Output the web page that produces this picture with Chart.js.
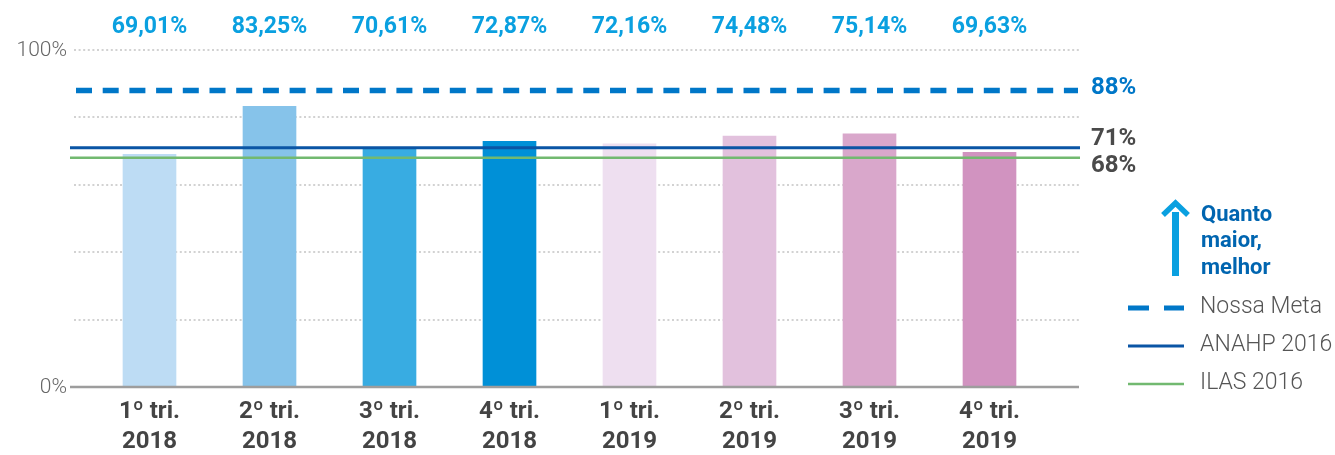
<!DOCTYPE html>
<html>
<head>
<meta charset="utf-8">
<script src="https://cdn.jsdelivr.net/npm/chart.js@4/dist/chart.umd.min.js"></script>
<style>
  html, body { margin: 0; padding: 0; background: #fff; }
  canvas { display: block; }
</style>
</head>
<body>
<canvas id="chart" width="1335" height="455"></canvas>
<script>
// dados
const trimestres = ["1º tri.", "2º tri.", "3º tri.", "4º tri.", "1º tri.", "2º tri.", "3º tri.", "4º tri."];
const anos = ["2018", "2018", "2018", "2018", "2019", "2019", "2019", "2019"];
const valores = [69.01, 83.25, 70.61, 72.87, 72.16, 74.48, 75.14, 69.63];
const coresBarras = ["#bddcf4", "#86c3ea", "#38ace2", "#0090d7", "#eedff0", "#e2c1dd", "#d9a7cb", "#d193c0"];
const yTicks = [0, 20, 40, 60, 80, 100];
const yTickLabels = ["0%", "", "", "", "", "100%"];
const refNomes = ["Nossa Meta", "ANAHP 2016", "ILAS 2016"];
const refValores = [88, 71, 68];
const refCores = ["#0077c8", "#0a55a5", "#72b970"];
const refRotulos = ["88%", "71%", "68%"];
const refRotuloCores = ["#0077c8", "#4a4a4a", "#4a4a4a"];
const destaque = ["Quanto", "maior,", "melhor"];

const FONT = "Roboto, 'Open Sans', sans-serif";
const X0 = 70, X1 = 1079;

const desenho = {
  id: "desenho",
  beforeDatasetsDraw(chart) {
    const ctx = chart.ctx, y = chart.scales.y;
    ctx.save();
    // grade pontilhada
    ctx.strokeStyle = "#d2d2d2";
    ctx.lineWidth = 2;
    ctx.setLineDash([2, 2.6]);
    yTicks.forEach(v => {
      if (v === 0) return;
      const py = Math.round(y.getPixelForValue(v));
      ctx.beginPath(); ctx.moveTo(74, py); ctx.lineTo(1080, py); ctx.stroke();
    });
    ctx.setLineDash([]);
    // rótulos do eixo y
    ctx.fillStyle = "#666";
    ctx.font = "300 21px " + FONT;
    ctx.textAlign = "right";
    ctx.textBaseline = "middle";
    yTicks.forEach((v, i) => {
      if (!yTickLabels[i]) return;
      ctx.fillText(yTickLabels[i], 67, y.getPixelForValue(v) + 1);
    });
    ctx.restore();
  },
  afterDatasetsDraw(chart) {
    const ctx = chart.ctx, x = chart.scales.x, y = chart.scales.y;
    ctx.save();
    // linha de base
    ctx.strokeStyle = "#9d9d9d";
    ctx.lineWidth = 2.5;
    const by = y.getPixelForValue(0);
    ctx.beginPath(); ctx.moveTo(X0, by); ctx.lineTo(X1, by); ctx.stroke();

    // linhas de referência
    refValores.forEach((v, i) => {
      const py = y.getPixelForValue(v);
      ctx.strokeStyle = refCores[i];
      if (i === 0) { ctx.lineWidth = 5.5; ctx.setLineDash([16, 10.7]); }
      else { ctx.lineWidth = i === 1 ? 3 : 2.5; ctx.setLineDash([]); }
      ctx.beginPath(); ctx.moveTo(i === 0 ? 76 : X0, py); ctx.lineTo(i === 0 ? 1078 : 1080, py); ctx.stroke();
    });
    ctx.setLineDash([]);

    // rótulos das referências
    ctx.font = "bold 24px " + FONT;
    ctx.textAlign = "left";
    ctx.textBaseline = "middle";
    const rotY = [88, 139, 166];
    refValores.forEach((v, i) => {
      ctx.fillStyle = refRotuloCores[i];
      ctx.fillText(refRotulos[i], 1091, rotY[i]);
    });

    // valores no topo
    ctx.fillStyle = "#0aa0e0";
    ctx.font = "bold 23px " + FONT;
    ctx.textAlign = "center";
    valores.forEach((v, i) => {
      ctx.fillText(v.toFixed(2).replace(".", ",") + "%", x.getPixelForValue(i), 27);
    });

    // rótulos do eixo x
    ctx.fillStyle = "#444";
    ctx.font = "bold 24px " + FONT;
    trimestres.forEach((t, i) => {
      const px = x.getPixelForValue(i);
      ctx.fillText(t, px, 412);
      ctx.fillText(anos[i], px, 442);
    });

    // seta
    ctx.fillStyle = "#0aa0e0";
    ctx.fillRect(1172, 212, 7, 64);
    ctx.strokeStyle = "#0aa0e0";
    ctx.lineWidth = 5.5;
    ctx.lineCap = "butt";
    ctx.lineJoin = "miter";
    ctx.beginPath();
    ctx.moveTo(1163, 215); ctx.lineTo(1175.5, 203); ctx.lineTo(1188, 215);
    ctx.stroke();

    ctx.fillStyle = "#0065b0";
    ctx.font = "bold 22px " + FONT;
    ctx.textAlign = "left";
    destaque.forEach((t, i) => ctx.fillText(t, 1201, 215 + i * 26.5));

    // legenda
    const ly = [308, 346, 384];
    refNomes.forEach((n, i) => {
      ctx.strokeStyle = refCores[i];
      if (i === 0) {
        ctx.lineWidth = 5;
        ctx.setLineDash([21, 15]);
        ctx.beginPath(); ctx.moveTo(1128, ly[i]); ctx.lineTo(1184, ly[i]); ctx.stroke();
        ctx.setLineDash([]);
      } else {
        ctx.lineWidth = i === 1 ? 3 : 2.5;
        ctx.beginPath(); ctx.moveTo(1128, ly[i]); ctx.lineTo(1184, ly[i]); ctx.stroke();
      }
      ctx.fillStyle = "#555";
      ctx.font = "300 23px " + FONT;
      ctx.fillText(n, 1200, ly[i] - 1);
    });
    ctx.restore();
  }
};

new Chart(document.getElementById("chart"), {
  type: "bar",
  data: {
    labels: trimestres.map((t, i) => t + " " + anos[i]),
    datasets: [{
      data: valores,
      backgroundColor: coresBarras,
      borderWidth: 0,
      barThickness: 53
    }]
  },
  options: {
    responsive: false,
    animation: false,
    layout: { padding: { left: 89.5, right: 285.5, top: 50, bottom: 68 } },
    plugins: { legend: { display: false }, tooltip: { enabled: false } },
    scales: {
      x: { display: false, offset: true },
      y: { display: false, min: 0, max: 100 }
    }
  },
  plugins: [desenho]
});
</script>
</body>
</html>
